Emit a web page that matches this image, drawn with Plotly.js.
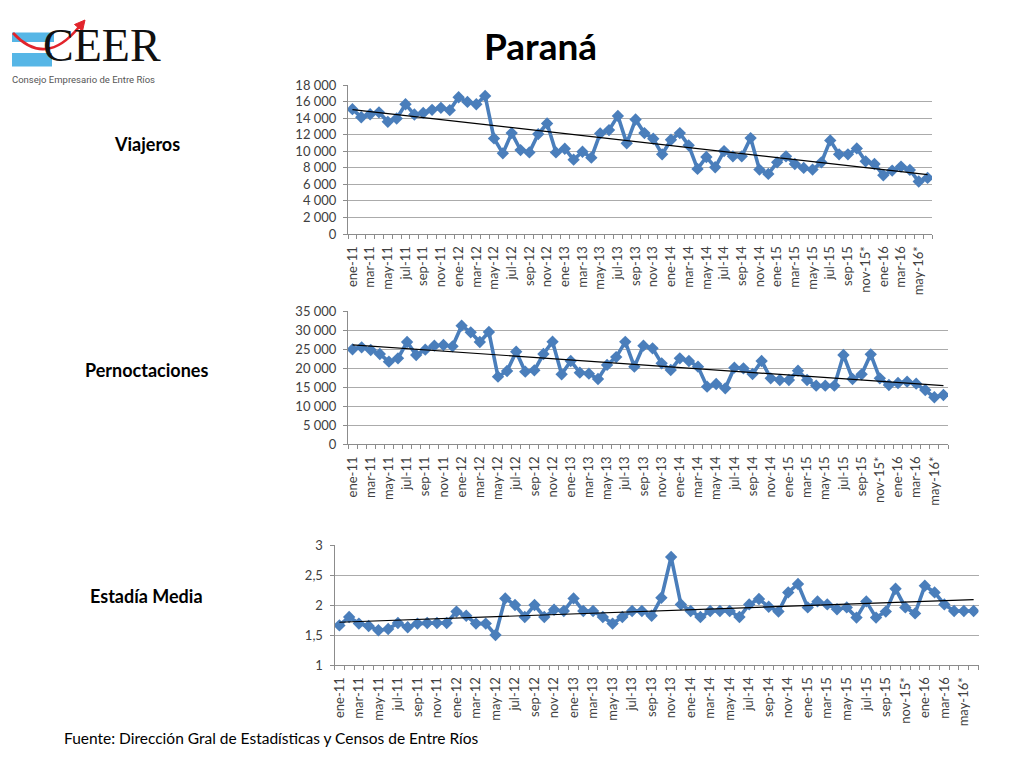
<!DOCTYPE html>
<html>
<head>
<meta charset="utf-8">
<script src="https://cdn.plot.ly/plotly-3.0.1.min.js"></script>
<style>
html,body{margin:0;padding:0;background:#fff;}
#chart{width:1024px;height:768px;}
</style>
</head>
<body>
<div id="chart"></div>
<script>
// ---------------- DATA ----------------
const categories = [
 'ene-11','feb-11','mar-11','abr-11','may-11','jun-11','jul-11','ago-11','sep-11','oct-11','nov-11','dic-11',
 'ene-12','feb-12','mar-12','abr-12','may-12','jun-12','jul-12','ago-12','sep-12','oct-12','nov-12','dic-12',
 'ene-13','feb-13','mar-13','abr-13','may-13','jun-13','jul-13','ago-13','sep-13','oct-13','nov-13','dic-13',
 'ene-14','feb-14','mar-14','abr-14','may-14','jun-14','jul-14','ago-14','sep-14','oct-14','nov-14','dic-14',
 'ene-15','feb-15','mar-15','abr-15','may-15','jun-15','jul-15','ago-15','sep-15','oct-15','nov-15*','dic-15',
 'ene-16','feb-16','mar-16','abr-16','may-16*','jun-16'
];

const viajeros = [
 15080,14110,14470,14700,13550,13950,15680,14430,14630,15000,15240,14960,
 16520,15960,15680,16680,11550,9740,12190,10140,9860,12070,13350,9860,
 10300,8980,9940,9220,12150,12550,14270,10950,13830,12190,11510,9620,
 11390,12190,10710,7860,9300,8060,10020,9380,9380,11590,7780,7260,
 8660,9380,8460,7980,7780,8660,11310,9620,9620,10340,8780,8460,
 7100,7660,8140,7740,6340,6780
];

const pernoctaciones = [
 24930,25460,24760,23710,21700,22570,26860,23450,24850,25900,26070,25720,
 31150,29400,26860,29480,17760,19250,24320,19070,19420,23710,26950,18370,
 21870,18810,18550,17150,20850,22900,26900,20390,25900,25200,21260,19510,
 22570,21870,20390,15140,15840,14700,20120,19950,18460,21870,17320,16890,
 16890,19340,16890,15400,15400,15400,23450,17150,18370,23620,17320,15570,
 16100,16450,15920,14260,12340,12950
];

const estadiaMedia = [
 1.66,1.80,1.69,1.65,1.58,1.60,1.70,1.63,1.69,1.70,1.70,1.70,
 1.89,1.82,1.69,1.69,1.50,2.11,2.00,1.80,2.00,1.80,1.92,1.90,
 2.11,1.90,1.90,1.80,1.69,1.80,1.90,1.90,1.82,2.12,2.80,2.01,
 1.90,1.80,1.90,1.90,1.90,1.80,2.01,2.10,1.97,1.89,2.21,2.35,
 1.96,2.06,2.01,1.93,1.96,1.79,2.06,1.79,1.89,2.27,1.96,1.86,
 2.32,2.21,2.01,1.90,1.90,1.90
];

const seriesNames = ['Viajeros','Pernoctaciones','Estadía Media'];
const chartTitle = 'Paraná';
const sourceText = 'Fuente: Dirección Gral de Estadísticas y Censos de Entre Ríos';
const logoName = 'CEER';
const logoSubtitle = 'Consejo Empresario de Entre Ríos';

// ---------------- HELPERS ----------------
const W = 1024, H = 768;
const px = x => x / W;
const py = y => 1 - y / H;
const idx = categories.map((_, i) => i);
const tickIdx = idx.filter(i => i % 2 === 0);
const tickText = tickIdx.map(i => categories[i]);

function trend(ys) {
  const n = ys.length;
  let sx = 0, sy = 0, sxx = 0, sxy = 0;
  ys.forEach((y, i) => { sx += i; sy += y; sxx += i * i; sxy += i * y; });
  const b = (n * sxy - sx * sy) / (n * sxx - sx * sx);
  const a = (sy - b * sx) / n;
  return { x: [0, n - 1], y: [a, a + b * (n - 1)] };
}

const blue = '#4A7EBB';
const FONT = 'Lato, "Open Sans", sans-serif';

function lineTrace(ys, xa, ya) {
  return {
    x: idx, y: ys, xaxis: xa, yaxis: ya, type: 'scatter', mode: 'lines+markers',
    line: { color: blue, width: 3.6 },
    marker: { symbol: 'diamond', size: 9.5, color: blue },
    hoverinfo: 'skip', showlegend: false
  };
}
function trendTrace(ys, xa, ya) {
  const t = trend(ys);
  return {
    x: t.x, y: t.y, xaxis: xa, yaxis: ya, type: 'scatter', mode: 'lines',
    line: { color: '#000', width: 1.2 }, hoverinfo: 'skip', showlegend: false
  };
}

function xAxis(dom, anchor) {
  return {
    domain: dom, anchor: anchor, type: 'linear', range: [-0.5, categories.length - 0.5],
    tickmode: 'array', tickvals: tickIdx, ticktext: tickText, tickangle: -90,
    ticks: '', ticklabelstandoff: 6, showgrid: false, zeroline: false,
    showline: true, linecolor: '#8c8c8c', linewidth: 1,
    tickfont: { family: FONT, size: 13, color: '#404040' },
    minor: { tickmode: 'linear', tick0: -0.5, dtick: 1, ticks: 'outside', ticklen: 4, tickcolor: '#8c8c8c', showgrid: false },
    fixedrange: true
  };
}
function yAxis(dom, anchor, range, dtick, fmt) {
  return {
    domain: dom, anchor: anchor, range: range, dtick: dtick, tick0: range[0],
    tickformat: fmt, showgrid: true, gridcolor: '#ababab', gridwidth: 1,
    zeroline: false, showline: true, linecolor: '#8c8c8c', linewidth: 1,
    ticks: 'outside', ticklen: 4, tickcolor: '#8c8c8c', ticklabelstandoff: 4,
    tickfont: { family: FONT, size: 13, color: '#404040' },
    fixedrange: true
  };
}

const data = [
  lineTrace(viajeros, 'x', 'y'), trendTrace(viajeros, 'x', 'y'),
  lineTrace(pernoctaciones, 'x2', 'y2'), trendTrace(pernoctaciones, 'x2', 'y2'),
  lineTrace(estadiaMedia, 'x3', 'y3'), trendTrace(estadiaMedia, 'x3', 'y3')
];

// logo shapes
const arrowPath = `M ${px(13)} ${py(33)} Q ${px(45.5)} ${py(68)} ${px(79)} ${py(27)}`;
const headPath = `M ${px(85)} ${py(20)} L ${px(74.5)} ${py(24.5)} L ${px(82.5)} ${py(31)} Z`;

const layout = {
  width: W, height: H,
  margin: { l: 0, r: 0, t: 0, b: 0 },
  paper_bgcolor: '#fff', plot_bgcolor: 'rgba(0,0,0,0)',
  separators: ', ',
  font: { family: FONT, color: '#404040' },
  xaxis: xAxis([px(348), px(932)], 'y'),
  yaxis: yAxis([py(234), py(85)], 'x', [0, 18000], 2000, ',d'),
  xaxis2: xAxis([px(348), px(948)], 'y2'),
  yaxis2: yAxis([py(444.3), py(311)], 'x2', [0, 35000], 5000, ',d'),
  xaxis3: xAxis([px(334.5), px(978.5)], 'y3'),
  yaxis3: yAxis([py(665), py(545)], 'x3', [1, 3], 0.5, ''),
  shapes: [
    { type: 'rect', xref: 'paper', yref: 'paper', x0: px(12), x1: px(54), y0: py(42), y1: py(32.5), fillcolor: '#56B6E6', line: { width: 0 }, layer: 'below' },
    { type: 'rect', xref: 'paper', yref: 'paper', x0: px(12), x1: px(52), y0: py(66.5), y1: py(53), fillcolor: '#56B6E6', line: { width: 0 }, layer: 'below' },
    { type: 'path', xref: 'paper', yref: 'paper', path: arrowPath, line: { color: '#E2242B', width: 2.6 } },
    { type: 'path', xref: 'paper', yref: 'paper', path: headPath, fillcolor: '#E2242B', line: { color: '#E2242B', width: 1 } }
  ],
  annotations: [
    { text: '<b>' + chartTitle + '</b>', xref: 'paper', yref: 'paper', x: px(540), y: py(45), xanchor: 'center', yanchor: 'middle', showarrow: false, font: { family: FONT, size: 37, color: '#000' } },
    { text: '<b>' + seriesNames[0] + '</b>', xref: 'paper', yref: 'paper', x: px(147), y: py(144), xanchor: 'center', yanchor: 'middle', showarrow: false, font: { family: FONT, size: 18, color: '#000' } },
    { text: '<b>' + seriesNames[1] + '</b>', xref: 'paper', yref: 'paper', x: px(146), y: py(370), xanchor: 'center', yanchor: 'middle', showarrow: false, font: { family: FONT, size: 18, color: '#000' } },
    { text: '<b>' + seriesNames[2] + '</b>', xref: 'paper', yref: 'paper', x: px(146), y: py(596), xanchor: 'center', yanchor: 'middle', showarrow: false, font: { family: FONT, size: 18, color: '#000' } },
    { text: sourceText, xref: 'paper', yref: 'paper', x: px(62), y: py(738), xanchor: 'left', yanchor: 'middle', showarrow: false, font: { family: FONT, size: 15.5, color: '#000' } },
    { text: logoName, xref: 'paper', yref: 'paper', x: px(42), y: py(72), xanchor: 'left', yanchor: 'bottom', showarrow: false, borderpad: 0, font: { family: '"Liberation Serif", "DejaVu Serif", serif', size: 46, color: '#111' } },
    { text: logoSubtitle, xref: 'paper', yref: 'paper', x: px(11), y: py(79), xanchor: 'left', yanchor: 'middle', showarrow: false, borderpad: 0, font: { family: '"Liberation Sans Narrow", Roboto, sans-serif', size: 9.5, color: '#555' } }
  ]
};

Plotly.newPlot('chart', data, layout, { staticPlot: true, displayModeBar: false });
</script>
</body>
</html>
